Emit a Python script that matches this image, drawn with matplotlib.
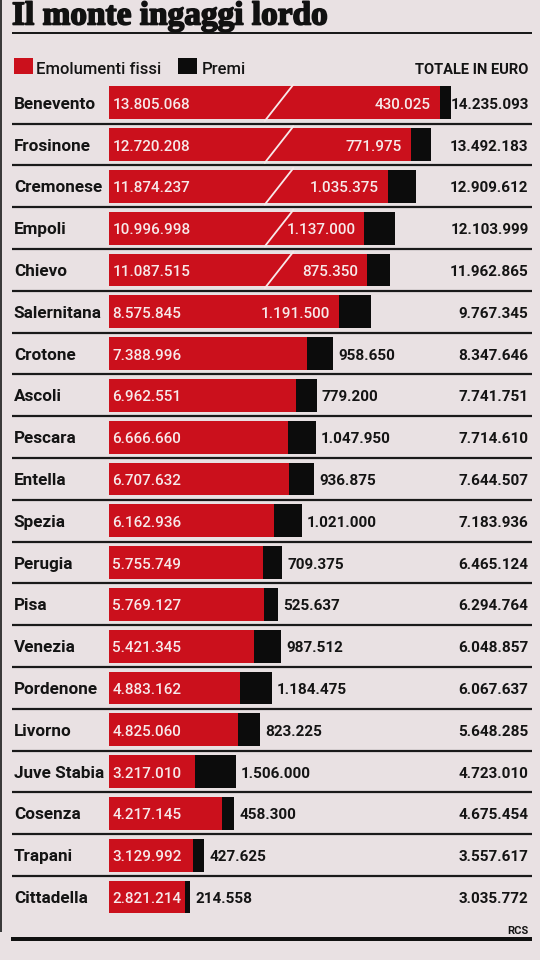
import matplotlib
matplotlib.use('Agg')
import matplotlib.pyplot as plt
from matplotlib.transforms import blended_transform_factory as blend
from matplotlib.patches import Rectangle
import matplotlib.patheffects as pe

# ---------------- data ----------------
teams = ["Benevento", "Frosinone", "Cremonese", "Empoli", "Chievo", "Salernitana",
         "Crotone", "Ascoli", "Pescara", "Entella", "Spezia", "Perugia", "Pisa",
         "Venezia", "Pordenone", "Livorno", "Juve Stabia", "Cosenza", "Trapani",
         "Cittadella"]
fissi = [13805068, 12720208, 11874237, 10996998, 11087515, 8575845, 7388996,
         6962551, 6666660, 6707632, 6162936, 5755749, 5769127, 5421345, 4883162,
         4825060, 3217010, 4217145, 3129992, 2821214]
premi = [430025, 771975, 1035375, 1137000, 875350, 1191500, 958650, 779200,
         1047950, 936875, 1021000, 709375, 525637, 987512, 1184475, 823225,
         1506000, 458300, 427625, 214558]
totale = [14235093, 13492183, 12909612, 12103999, 11962865, 9767345, 8347646,
          7741751, 7714610, 7644507, 7183936, 6465124, 6294764, 6048857,
          6067637, 5648285, 4723010, 4675454, 3557617, 3035772]
title = "Il monte ingaggi lordo"
legend_labels = ["Emolumenti fissi", "Premi"]
total_header = "TOTALE IN EURO"
source = "RCS"

# ---------------- style ----------------
BG = '#e9e1e3'
RED = '#cb101c'
BLK = '#0c0c0c'
INK = '#141414'
WHITE_TXT = '#f7e9ea'
W, H = 540, 960
PX2PT = 0.72
FONT = 'Roboto'

BREAK = 1.48e6          # amount cut out of the broken (long) bars
N_BROKEN = 5            # first rows drawn with a break
N_INSIDE = 6            # rows with premi label inside the red bar
BREAK_X = 6.34e6        # position of the diagonal break mark
BAR_H = 0.78

def fmt(v):
    return f"{v:,}".replace(",", ".")

fig = plt.figure(figsize=(W / 100, H / 100), dpi=100, facecolor=BG)

# overlay axes in pixel coordinates for decorations
ov = fig.add_axes([0, 0, 1, 1])
ov.set_xlim(0, W)
ov.set_ylim(H, 0)
ov.axis('off')
ov.patch.set_alpha(0)

# bar axes
X0 = 108.8          # px where the bars start
PXM = 26.85         # px per million
ROW0 = 102.8        # px centre of first row
STEP = 41.8         # px between rows
top_px = ROW0 - STEP / 2
bot_px = ROW0 + (len(teams) - 0.5) * STEP
ax = fig.add_axes([X0 / W, 1 - bot_px / H, (W - X0) / W, (bot_px - top_px) / H])
ax.set_xlim(0, (W - X0) / PXM * 1e6)
ax.set_ylim(len(teams) - 0.5, -0.5)
ax.axis('off')
ax.patch.set_alpha(0)

ypos = list(range(len(teams)))
shown = [f - BREAK if i < N_BROKEN else f for i, f in enumerate(fissi)]
ax.barh(ypos, shown, height=BAR_H, color=RED, linewidth=0)
ax.barh(ypos, premi, left=shown, height=BAR_H, color=BLK, linewidth=0)

# break marks
for i in range(N_BROKEN):
    ax.plot([BREAK_X - 0.55e6, BREAK_X + 0.55e6], [i + 0.45, i - 0.45],
            color=WHITE_TXT, lw=1.3, solid_capstyle='butt', zorder=5)

row_tr = blend(ov.transData, ax.transData)
BL = 0.145  # baseline offset in row units

for i, team in enumerate(teams):
    yb = i + BL
    ax.text(13.8, yb, team, transform=row_tr, ha='left', va='baseline',
            fontsize=12.3, fontweight='bold', color=INK, family=FONT)
    ax.annotate(fmt(fissi[i]), xy=(0, yb), xytext=(3.5 * PX2PT, 0),
                textcoords='offset points', ha='left', va='baseline',
                fontsize=11, fontweight='medium', color=WHITE_TXT, family=FONT)
    if i < N_INSIDE:
        ax.annotate(fmt(premi[i]), xy=(shown[i], yb), xytext=(-9 * PX2PT, 0),
                    textcoords='offset points', ha='right', va='baseline',
                    fontsize=11, fontweight='medium', color=WHITE_TXT, family=FONT)
    else:
        ax.annotate(fmt(premi[i]), xy=(shown[i] + premi[i], yb), xytext=(5 * PX2PT, 0),
                    textcoords='offset points', ha='left', va='baseline',
                    fontsize=11, fontweight='bold', color=INK, family=FONT)
    ax.text(528.6, yb, fmt(totale[i]), transform=row_tr, ha='right', va='baseline',
            fontsize=11, fontweight='bold', color=INK, family=FONT)

# row separators
for i in range(len(teams) - 1):
    ax.plot([12, 532], [i + 0.5, i + 0.5], transform=row_tr, color='#1a1a1a',
            lw=2.2 * PX2PT, solid_capstyle='butt', clip_on=False)

# title
ov.text(12, 24.5, title, ha='left', va='baseline', fontsize=24, fontweight='bold',
        family='Liberation Serif', color='#111111',
        path_effects=[pe.withStroke(linewidth=1.2, foreground='#111111')])
ov.plot([12, 532], [32.7, 32.7], color='#1a1a1a', lw=2 * PX2PT, solid_capstyle='butt')

# legend
ov.add_patch(Rectangle((14, 57.5), 18.5, 16, color=RED, lw=0))
ov.text(36, 73.5, legend_labels[0], ha='left', va='baseline', fontsize=12,
        fontweight='medium', color=INK, family=FONT)
ov.add_patch(Rectangle((178.4, 57.5), 18.6, 16, color=BLK, lw=0))
ov.text(201.4, 73.5, legend_labels[1], ha='left', va='baseline', fontsize=12,
        fontweight='medium', color=INK, family=FONT)
ov.text(528.6, 73.5, total_header, ha='right', va='baseline', fontsize=10.5,
        fontweight='bold', color=INK, family=FONT)

# bottom
ov.text(528.6, 934, source, ha='right', va='baseline', fontsize=8,
        fontweight='bold', color=INK, family=FONT)
ov.plot([11, 532], [939, 939], color='#111111', lw=4 * PX2PT, solid_capstyle='butt')
ov.plot([1, 1], [0, 932], color='#3a3a3a', lw=2 * PX2PT, solid_capstyle='butt')

fig.savefig('out.png', dpi=100, facecolor=BG)
